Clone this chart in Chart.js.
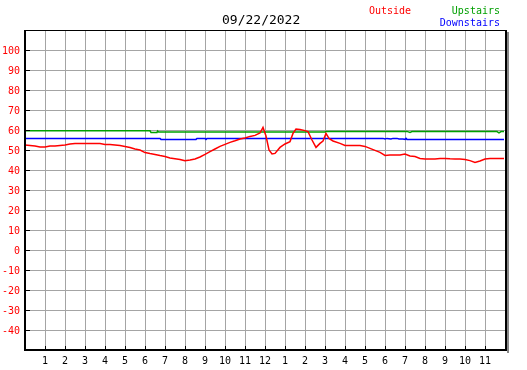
<!DOCTYPE html>
<html><head><meta charset="utf-8">
<script src="https://cdn.jsdelivr.net/npm/chart.js@4/dist/chart.umd.min.js"></script>
<style>
body{margin:0;background:#fff;}
#wrap{position:relative;width:527px;height:370px;background:#fff;}
canvas{position:absolute;left:0;top:0;}
.t{position:absolute;font-family:"DejaVu Sans Mono",monospace;white-space:nowrap;line-height:1;}
</style>
</head><body>
<div id="wrap">
<canvas id="c" width="527" height="370"></canvas>
<div class="t" style="left:222px;top:13px;font-size:13px;color:#000">09/22/2022</div>
<div class="t" style="left:369px;top:6px;font-size:10px;color:#ff0000">Outside</div>
<div class="t" style="right:27px;top:6px;font-size:10px;color:#00a000">Upstairs</div>
<div class="t" style="right:27px;top:18px;font-size:10px;color:#0000ff">Downstairs</div>
</div>
<script>
const hourLabels = ['1','2','3','4','5','6','7','8','9','10','11','12','1','2','3','4','5','6','7','8','9','10','11'];
const yTickValues = [-40,-30,-20,-10,0,10,20,30,40,50,60,70,80,90,100];

const outsideHours = [0,0.25,0.5,0.75,1,1.25,1.5,1.75,2,2.25,2.5,2.75,3,3.25,3.5,3.75,4,4.25,4.5,4.75,5,5.25,5.5,5.75,6,6.25,6.5,6.75,7,7.25,7.5,7.75,8,8.25,8.5,8.75,9,9.25,9.5,9.75,10,10.25,10.5,10.75,11,11.25,11.5,11.75,11.9,12.05,12.2,12.35,12.5,12.75,13,13.25,13.4,13.55,13.75,14,14.15,14.35,14.55,14.75,14.9,15.05,15.2,15.4,15.75,16,16.25,16.5,16.75,17,17.25,17.5,17.75,18,18.25,18.5,18.75,19,19.25,19.5,19.75,20,20.25,20.5,20.75,21,21.25,21.5,21.75,22,22.25,22.5,22.75,23,23.25,23.5,23.75,23.95];
const outsideTemps = [52.5,52.3,52,51.5,51.5,52,52,52.3,52.5,53,53.3,53.3,53.3,53.3,53.3,53.3,52.8,52.7,52.5,52.3,51.8,51.2,50.5,50,48.7,48.2,47.8,47.2,46.7,46,45.6,45.2,44.6,45,45.5,46.5,47.8,49.2,50.5,51.8,52.8,53.8,54.6,55.5,56,56.8,57.3,58.5,61.3,57,50,48,48.3,51.3,53,54.2,58.3,60.5,60.3,59.7,59.2,55,51.3,53.3,54.5,58.3,55.8,54.5,53.3,52.3,52.2,52.2,52.2,51.8,50.8,49.8,48.8,47.3,47.5,47.5,47.5,48,47,46.7,45.8,45.5,45.5,45.5,45.8,45.8,45.6,45.5,45.5,45.2,44.7,43.8,44.5,45.5,45.8,45.8,45.8,45.8];

const upstairsHours = [0,6.25,6.3,6.6,6.63,6.68,15,15.05,19.1,19.25,19.35,23.6,23.7,23.8,23.95];
const upstairsTemps = [59.6,59.6,58.8,58.8,59.5,59.0,59.0,59.3,59.3,58.8,59.2,59.2,58.6,59.2,59.2];

const downstairsHours = [0,6.75,6.8,8.55,8.6,9.0,9.05,9.1,17.9,18.0,18.1,18.3,18.4,18.6,18.7,18.9,19.0,19.05,19.1,23.95];
const downstairsTemps = [55.8,55.8,55.3,55.3,55.8,55.8,55.3,55.8,55.8,55.5,55.8,55.5,55.8,55.8,55.5,55.5,55.3,55.8,55.3,55.3];

function pts(xs, ys){ return xs.map((x,i)=>({x:x, y:ys[i]})); }

const framePlugin = {
  id:'frame',
  afterDraw(chart){
    const ctx = chart.ctx, a = chart.chartArea;
    const xs = chart.scales.x, ys = chart.scales.y;
    ctx.save();
    ctx.fillStyle = '#000';
    yTickValues.forEach(v=>{
      const y = Math.round(ys.getPixelForValue(v));
      ctx.fillRect(a.left, y, 5, 1);
    });
    for(let h=1; h<=23; h++){
      const x = Math.round(xs.getPixelForValue(h));
      ctx.fillRect(x, a.bottom-4, 1, 4);
    }
    ctx.fillRect(a.left-1, a.top, 2, a.bottom-a.top+1);
    ctx.fillRect(a.left-1, a.bottom-1, a.right-a.left+3, 2);
    ctx.fillRect(a.left-1, a.top, a.right-a.left+2, 1);
    ctx.fillRect(a.right, a.top, 2, a.bottom-a.top+1);
    ctx.fillStyle = '#888';
    ctx.fillRect(a.right+2, a.top+2, 2, a.bottom-a.top+1);
    ctx.restore();
  }
};

new Chart(document.getElementById('c'), {
  type:'line',
  data:{
    datasets:[
      {label:'Outside', data:pts(outsideHours,outsideTemps), borderColor:'#ff0000', borderWidth:1.5, pointRadius:0, tension:0, order:0},
      {label:'Upstairs', data:pts(upstairsHours,upstairsTemps), borderColor:'#00a000', borderWidth:1.5, pointRadius:0, tension:0, order:1},
      {label:'Downstairs', data:pts(downstairsHours,downstairsTemps), borderColor:'#0000ff', borderWidth:1.5, pointRadius:0, tension:0, order:2}
    ]
  },
  options:{
    responsive:false,
    animation:false,
    devicePixelRatio:1,
    layout:{padding:{top:30,right:22,left:0,bottom:0}},
    plugins:{legend:{display:false}, tooltip:{enabled:false}, title:{display:false}},
    scales:{
      x:{
        type:'linear', min:0, max:24,
        afterFit(s){ s.height = 20; },
        grid:{color:'#a4a4a4', lineWidth:1, drawTicks:false},
        border:{display:false},
        ticks:{stepSize:1, autoSkip:false, maxRotation:0, padding:5, color:'#000',
          font:{family:'DejaVu Sans Mono', size:10},
          callback:(v)=> (v>=1 && v<=23) ? hourLabels[v-1] : ''}
      },
      y:{
        type:'linear', min:-50, max:110,
        afterFit(s){ s.width = 25; },
        grid:{color:'#a4a4a4', lineWidth:1, drawTicks:false},
        border:{display:false},
        ticks:{stepSize:10, autoSkip:false, padding:5, labelOffset:1, color:'#ff0000',
          font:{family:'DejaVu Sans Mono', size:10},
          callback:(v)=> yTickValues.includes(v) ? String(v) : ''}
      }
    }
  },
  plugins:[framePlugin]
});
</script>
</body></html>
